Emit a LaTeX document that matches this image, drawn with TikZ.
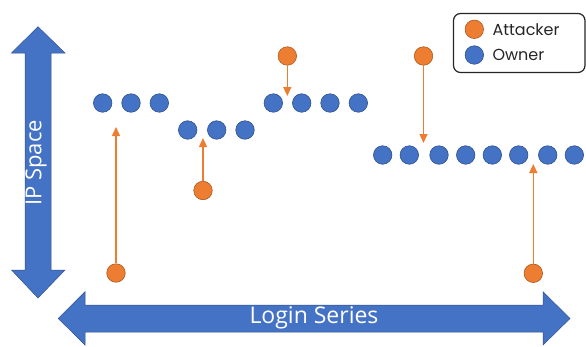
\documentclass[tikz,border=0pt]{standalone}
\usepackage{fontspec}
\setmainfont{Open Sans}
\newfontfamily\legendfont{Poppins}
\usetikzlibrary{arrows.meta}
\definecolor{obl}{HTML}{4472C4}
\definecolor{oblD}{HTML}{2F528F}
\definecolor{oor}{HTML}{ED7D31}
\definecolor{oorD}{HTML}{AE5A21}
\tikzset{
  owner/.style={circle, fill=obl, draw=oblD, line width=0.6pt, minimum size=18.5pt, inner sep=0pt},
  attacker/.style={circle, fill=oor, draw=oorD, line width=0.6pt, minimum size=18.5pt, inner sep=0pt},
  attline/.style={draw=oor, line width=1.4pt, -{Triangle[width=8pt,length=9pt]}},
  bigarrow/.style={fill=obl, draw=oblD, line width=0.5pt},
  axislabel/.style={text=white, font=\fontsize{22}{24}\selectfont},
  legendtext/.style={anchor=west, font=\legendfont\fontsize{16}{18}\selectfont, text=black!85},
}
\begin{document}
\begin{tikzpicture}[x=1pt,y=-1pt]
\useasboundingbox (0,0) rectangle (586,346);
% vertical big arrow
\path[bigarrow] (38,26.7) -- (65,53) -- (51,53) -- (51,270) -- (65,270) -- (38,298) -- (11.5,270) -- (25,270) -- (25,53) -- (11.5,53) -- cycle;
\node[axislabel, rotate=90] (ip) at (36,163) {IP Space};
% horizontal big arrow
\path[bigarrow] (58.3,318.5) -- (85,291.7) -- (85,305) -- (543,305) -- (543,291.7) -- (570,318.5) -- (543,345) -- (543,332) -- (85,332) -- (85,345) -- cycle;
\node[axislabel, font=\fontsize{23}{25}\selectfont] (ls) at (314,318) {Login Series};
% owners
\foreach \x [count=\i] in {102.7,131,159.3} \node[owner] (a\i) at (\x,103) {};
\foreach \x [count=\i] in {187.7,216.7,245} \node[owner] (b\i) at (\x,130) {};
\foreach \x [count=\i] in {273.3,301.7,330,358.3} \node[owner] (c\i) at (\x,103) {};
\foreach \x [count=\i] in {382.7,409.3,439,465.7,492.3,518.7,547.7,574.3} \node[owner] (d\i) at (\x,155) {};
% attackers
\node[attacker] (t1) at (116,273) {};
\node[attacker] (t2) at (203,190.5) {};
\node[attacker] (t3) at (287.3,56) {};
\node[attacker] (t4) at (423.5,56) {};
\node[attacker] (t5) at (533.3,273.3) {};
\coordinate (e1) at (116,127);
\coordinate (e2) at (203,138);
\coordinate (e3) at (287.3,96);
\coordinate (e4) at (423.5,143);
\coordinate (e5) at (533.3,164);
\draw[attline] (t1) -- (e1);
\draw[attline] (t2) -- (e2);
\draw[attline] (t3) -- (e3);
\draw[attline] (t4) -- (e4);
\draw[attline] (t5) -- (e5);
% legend
\draw[line width=1.2pt, draw=black!85, rounded corners=7pt] (453.5,13.5) rectangle (585,72.5);
\node[attacker] (la) at (474.3,29.3) {};
\node[owner] (lo) at (474.3,55) {};
\node[legendtext] (lat) at (489,29.3) {Attacker};
\node[legendtext] (lot) at (489,55) {Owner};
\end{tikzpicture}
\end{document}
